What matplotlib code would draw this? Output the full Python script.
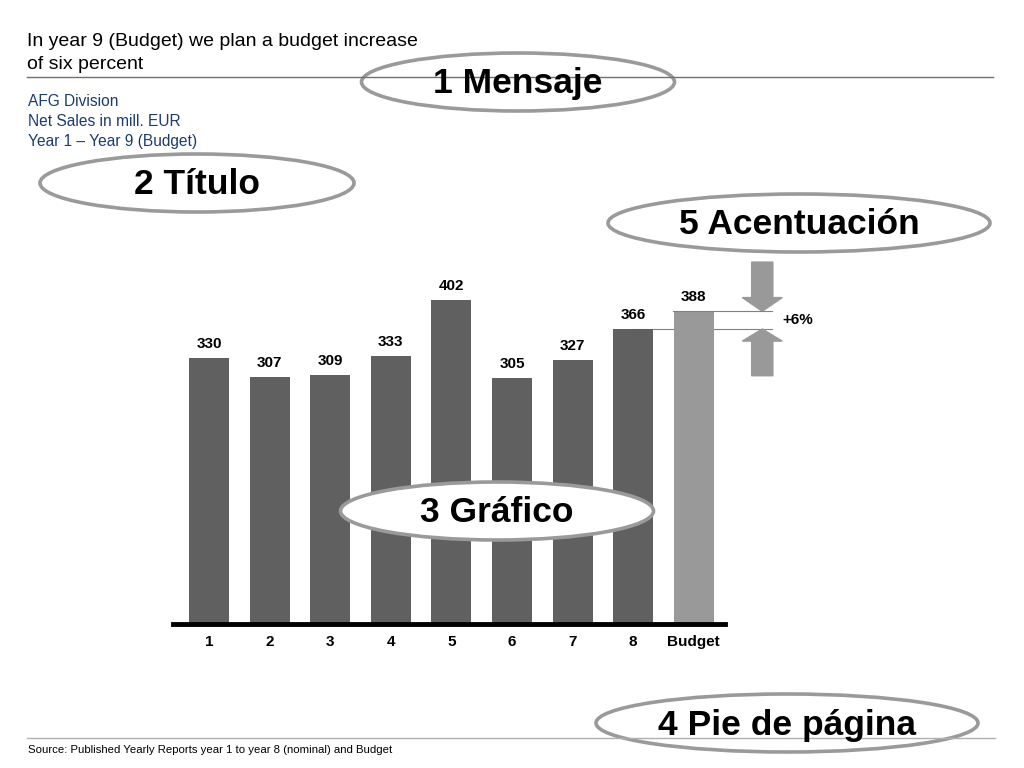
import matplotlib
matplotlib.use("Agg")
import matplotlib.pyplot as plt
from matplotlib.patches import Ellipse

plt.rcParams['font.family'] = ['Liberation Sans', 'DejaVu Sans']

# data
categories = ['1', '2', '3', '4', '5', '6', '7', '8', 'Budget']
sales = [330, 307, 309, 333, 402, 305, 327, 366, 388]
bar_colors = ['#606060'] * 8 + ['#999999']

message = "In year 9 (Budget) we plan a budget increase\nof six percent"
title_lines = "AFG Division\nNet Sales in mill. EUR\nYear 1 \u2013 Year 9 (Budget)"
source = "Source: Published Yearly Reports year 1 to year 8 (nominal) and Budget"
bubbles = ['1 Mensaje', '2 T\u00edtulo', '5 Acentuaci\u00f3n', '3 Gr\u00e1fico', '4 Pie de p\u00e1gina']

W, H = 1024, 768
fig = plt.figure(figsize=(W / 100, H / 100), dpi=100)

# bar chart, placed in pixel terms
left, right, base, top = 173, 725, 624, 264
ax = fig.add_axes([left / W, (H - base) / H, (right - left) / W, (base - top) / H])
x = list(range(len(sales)))
ax.bar(x, sales, width=0.66, color=bar_colors, zorder=2)
ax.set_xlim(-0.594, 8.515)
ax.set_ylim(0, (base - top) / 0.806)
for i, v in enumerate(sales):
    ax.annotate(str(v), (i, v), xytext=(0, 5), textcoords='offset points',
                ha='center', va='bottom', fontsize=11, fontweight='bold')
ax.axhline(0, color='black', lw=3.5, zorder=3, clip_on=False)
ax.set_xticks(x)
ax.set_xticklabels(categories, fontsize=11, fontweight='bold')
ax.tick_params(axis='x', length=0, pad=8)
ax.set_yticks([])
for s in ax.spines.values():
    s.set_visible(False)

# emphasis: +6% between year 8 and budget
ax.plot([7.66, 9.29], [sales[8], sales[8]], color='#808080', lw=0.8, clip_on=False, zorder=4)
ax.plot([7.0, 9.29], [sales[7], sales[7]], color='#808080', lw=0.8, clip_on=False, zorder=1)
ax.arrow(9.13, 449, 0, sales[8] - 449, width=0.35, head_width=0.66, head_length=17,
         length_includes_head=True, color='#999999', clip_on=False)
ax.arrow(9.13, 308, 0, sales[7] - 308, width=0.35, head_width=0.66, head_length=15,
         length_includes_head=True, color='#999999', clip_on=False)
ax.text(9.72, (sales[7] + sales[8]) / 2, '+{:.0f}%'.format((sales[8] / sales[7] - 1) * 100),
        ha='center', va='center', fontsize=11, fontweight='bold')

# overlay in pixel coordinates
ov = fig.add_axes([0, 0, 1, 1], zorder=5)
ov.set_xlim(0, W)
ov.set_ylim(H, 0)
ov.axis('off')
ov.patch.set_alpha(0)

ov.text(27, 53, message, fontsize=14, va='center', linespacing=1.45)
ov.plot([27, 993], [77, 77], color='#707070', lw=1)
ov.text(28, 121.5, title_lines, fontsize=11.2, color='#1c3c6e', va='center', linespacing=1.38)
ov.plot([27, 995], [738, 738], color='#b0b0b0', lw=1)
ov.text(28, 750, source, fontsize=8.2, va='center')

bubble_pos = [(518, 82), (197, 183), (799, 223), (497, 511), (787, 723)]
bubble_w = [313, 314, 382, 313, 382]
for label, (cx, cy), bw in zip(bubbles, bubble_pos, bubble_w):
    ov.add_patch(Ellipse((cx, cy), bw, 58, facecolor='white', edgecolor='#9a9a9a', lw=2.6))
    ov.text(cx, cy + 2, label, ha='center', va='center', fontsize=25.5, fontweight='bold',
            family=['Liberation Sans Narrow', 'Liberation Sans', 'DejaVu Sans'])

fig.savefig('out.png', dpi=100)
